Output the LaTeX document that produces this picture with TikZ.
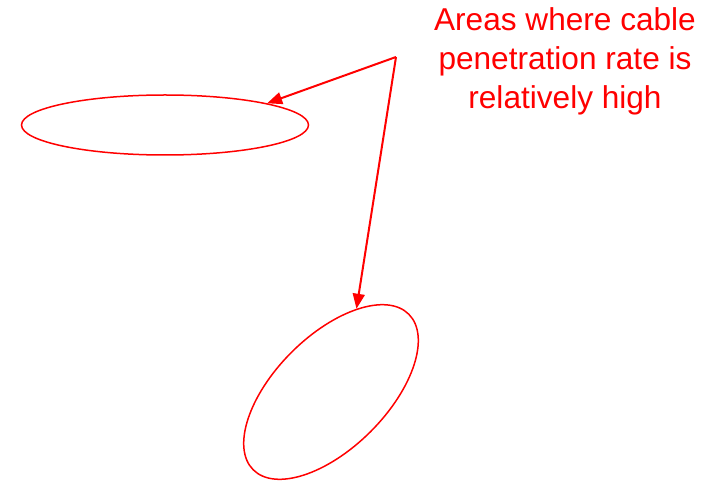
\documentclass[tikz,border=0pt]{standalone}
\usepackage{fontspec}
\setmainfont{Liberation Sans}
\usetikzlibrary{shapes.geometric,arrows.meta}
\begin{document}
\begin{tikzpicture}[x=1pt,y=1pt,
  area/.style={draw=red,ellipse,line width=1.5pt,inner sep=0pt},
  pointer/.style={draw=red,line width=2pt,-{Triangle[length=15pt,width=12pt]}},
  label/.style={text=red,align=center,font=\fontsize{31.6}{39}\selectfont}]
\useasboundingbox (0,0) rectangle (708,482);
\node[area,minimum width=287pt,minimum height=60pt] (e1) at (165,357) {};
\node[area,minimum width=220pt,minimum height=112pt,rotate=45] (e2) at (331,90) {};
\coordinate (apex) at (396,425);
\node[label] (txt) at (565,421) {Areas where cable\\penetration rate is\\relatively high};
\draw[pointer] (apex) -- (e1.12);
\draw[pointer] (apex) -- (e2.28);
\end{tikzpicture}
\end{document}
